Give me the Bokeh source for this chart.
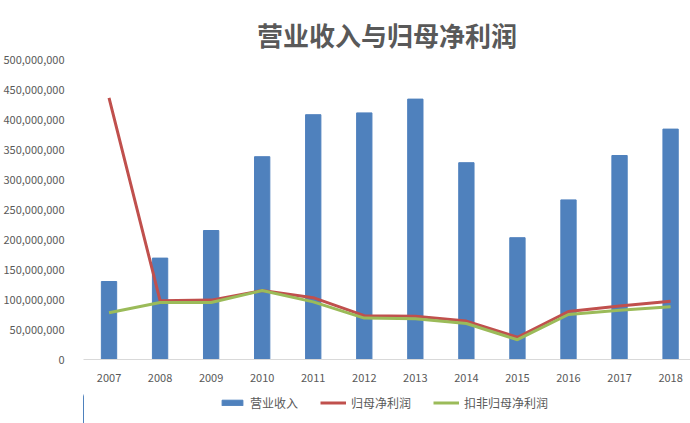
from bokeh.plotting import figure
from bokeh.layouts import column
from bokeh.models import (ColumnDataSource, FixedTicker, NumeralTickFormatter,
                          Legend, LegendItem, Range1d)
from bokeh.embed import file_html
from bokeh.resources import INLINE

years = ["2007", "2008", "2009", "2010", "2011", "2012", "2013", "2014",
         "2015", "2016", "2017", "2018"]
revenue = [130e6, 169e6, 215e6, 338e6, 408e6, 411e6, 434e6, 328e6,
           203e6, 266e6, 340e6, 384e6]
net_profit = [436e6, 98e6, 99e6, 115e6, 103e6, 73e6, 72e6, 64e6,
              37e6, 80e6, 89e6, 97e6]
net_profit_ex = [78e6, 95e6, 95e6, 115e6, 96e6, 69e6, 68e6, 60e6,
                 33e6, 75e6, 82e6, 88e6]
series_names = ["营业收入", "归母净利润", "扣非归母净利润"]
y_ticks = [0, 50e6, 100e6, 150e6, 200e6, 250e6, 300e6, 350e6, 400e6, 450e6, 500e6]

xs = list(range(len(years)))
src = ColumnDataSource(dict(x=xs, rev=revenue, np=net_profit, npx=net_profit_ex))

FONT = "Noto Sans CJK SC"
GRAY = "#595959"
BLUE, RED, GREEN = "#4F81BD", "#C0504D", "#9BBB59"

p = figure(width=690, height=390, output_backend="svg", toolbar_location=None,
           x_range=Range1d(-0.5, 11.39), y_range=Range1d(0, 500e6),
           min_border_left=80, min_border_right=0, min_border_top=59,
           min_border_bottom=31)
p.outline_line_color = None
p.background_fill_color = "white"
p.border_fill_color = "white"

p.title.text = "营业收入与归母净利润"
p.title.align = "center"
p.title.vertical_align = "top"
p.title.text_font = FONT
p.title.text_font_size = "26px"
p.title.text_font_style = "bold"
p.title.text_color = GRAY
p.title.standoff = 10

p.vbar(x="x", top="rev", width=0.3, source=src, color=BLUE)
p.line(x="x", y="np", source=src, line_color=RED, line_width=3)
p.line(x="x", y="npx", source=src, line_color=GREEN, line_width=3)

p.xgrid.grid_line_color = None
p.ygrid.grid_line_color = None

p.xaxis.ticker = FixedTicker(ticks=xs)
p.xaxis.major_label_overrides = {i: y for i, y in enumerate(years)}
p.xaxis.axis_line_color = "#D9D9D9"
p.xaxis.major_tick_line_color = None
p.xaxis.minor_tick_line_color = None
p.xaxis.major_label_text_font = FONT
p.xaxis.major_label_text_font_size = "11px"
p.xaxis.major_label_text_color = GRAY
p.xaxis.major_label_standoff = 8

p.yaxis.ticker = FixedTicker(ticks=y_ticks)
p.yaxis.formatter = NumeralTickFormatter(format="0,0")
p.yaxis.axis_line_color = None
p.yaxis.major_tick_line_color = None
p.yaxis.minor_tick_line_color = None
p.yaxis.major_label_text_font = FONT
p.yaxis.major_label_text_font_size = "11px"
p.yaxis.major_label_text_color = GRAY
p.yaxis.major_label_standoff = 13

# legend strip below the chart (same series, scrolled far out of its visible x range)
lf = figure(width=690, height=33, output_backend="svg", toolbar_location=None,
            x_range=Range1d(100, 111.89), y_range=Range1d(0, 500e6),
            x_axis_location=None, y_axis_location=None,
            min_border=0)
lf.outline_line_color = None
lf.xgrid.grid_line_color = None
lf.ygrid.grid_line_color = None
lf.border_fill_color = "white"
r_bar = lf.vbar(x="x", top="rev", width=0.3, source=src, color=BLUE)
r_l1 = lf.line(x="x", y="np", source=src, line_color=RED, line_width=3)
r_l2 = lf.line(x="x", y="npx", source=src, line_color=GREEN, line_width=3)

legend = Legend(items=[LegendItem(label=series_names[0], renderers=[r_bar]),
                       LegendItem(label=series_names[1], renderers=[r_l1]),
                       LegendItem(label=series_names[2], renderers=[r_l2])],
                orientation="horizontal", location=(136, 12),
                label_text_font=FONT, label_text_font_size="12px",
                label_text_color=GRAY, glyph_width=26, glyph_height=7,
                label_standoff=5, spacing=22, border_line_color=None,
                background_fill_alpha=0, margin=0, padding=4)
lf.add_layout(legend)

layout = column(p, lf, spacing=0)
open("out.html", "w").write(file_html(layout, INLINE))
